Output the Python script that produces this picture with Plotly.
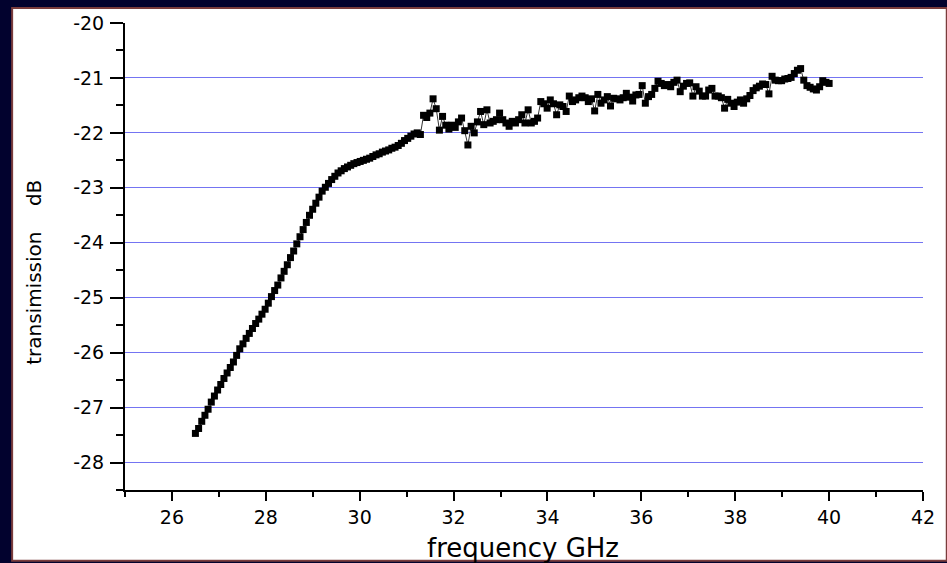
import plotly.graph_objects as go

# ---- data ----
freq_ghz = [
    26.500, 26.568, 26.635, 26.703, 26.770, 26.838, 26.905, 26.973, 27.040, 27.108,
    27.175, 27.243, 27.310, 27.378, 27.445, 27.513, 27.580, 27.648, 27.715, 27.783,
    27.850, 27.918, 27.985, 28.053, 28.120, 28.188, 28.255, 28.323, 28.390, 28.458,
    28.525, 28.593, 28.660, 28.728, 28.795, 28.863, 28.930, 28.998, 29.065, 29.133,
    29.200, 29.268, 29.335, 29.403, 29.470, 29.538, 29.605, 29.673, 29.740, 29.808,
    29.875, 29.943, 30.010, 30.078, 30.145, 30.213, 30.280, 30.348, 30.415, 30.483,
    30.550, 30.618, 30.685, 30.753, 30.820, 30.888, 30.955, 31.023, 31.090, 31.158,
    31.225, 31.293, 31.360, 31.428, 31.495, 31.563, 31.630, 31.698, 31.765, 31.833,
    31.900, 31.968, 32.035, 32.103, 32.170, 32.238, 32.305, 32.373, 32.440, 32.508,
    32.575, 32.643, 32.710, 32.778, 32.845, 32.913, 32.980, 33.048, 33.115, 33.183,
    33.250, 33.318, 33.385, 33.453, 33.520, 33.588, 33.655, 33.723, 33.790, 33.858,
    33.925, 33.993, 34.060, 34.128, 34.195, 34.263, 34.330, 34.398, 34.465, 34.533,
    34.600, 34.668, 34.735, 34.803, 34.870, 34.938, 35.005, 35.073, 35.140, 35.208,
    35.275, 35.343, 35.410, 35.478, 35.545, 35.613, 35.680, 35.748, 35.815, 35.883,
    35.950, 36.018, 36.085, 36.153, 36.220, 36.288, 36.355, 36.423, 36.490, 36.558,
    36.625, 36.693, 36.760, 36.828, 36.895, 36.963, 37.030, 37.098, 37.165, 37.233,
    37.300, 37.368, 37.435, 37.503, 37.570, 37.638, 37.705, 37.773, 37.840, 37.908,
    37.975, 38.043, 38.110, 38.178, 38.245, 38.313, 38.380, 38.448, 38.515, 38.583,
    38.650, 38.718, 38.785, 38.853, 38.920, 38.988, 39.055, 39.123, 39.190, 39.258,
    39.325, 39.393, 39.460, 39.528, 39.595, 39.663, 39.730, 39.798, 39.865, 39.933,
    40.000,
]

transmission_db = [
    -27.47, -27.38, -27.25, -27.14, -27.03, -26.90, -26.79, -26.68, -26.58, -26.47,
    -26.37, -26.27, -26.17, -26.05, -25.93, -25.84, -25.74, -25.65, -25.56, -25.47,
    -25.39, -25.30, -25.21, -25.10, -24.98, -24.87, -24.77, -24.64, -24.52, -24.40,
    -24.27, -24.15, -24.02, -23.89, -23.76, -23.63, -23.50, -23.39, -23.28, -23.17,
    -23.06, -22.99, -22.92, -22.85, -22.79, -22.73, -22.69, -22.65, -22.62, -22.59,
    -22.56, -22.54, -22.52, -22.50, -22.48, -22.46, -22.43, -22.40, -22.38, -22.35,
    -22.33, -22.31, -22.28, -22.26, -22.23, -22.19, -22.14, -22.10, -22.06, -22.02,
    -22.00, -22.03, -21.68, -21.72, -21.64, -21.38, -21.56, -21.95, -21.70, -21.86,
    -21.93, -21.86, -21.90, -21.80, -21.73, -21.96, -22.22, -21.88, -22.00, -21.80,
    -21.61, -21.85, -21.58, -21.82, -21.79, -21.76, -21.64, -21.76, -21.82, -21.88,
    -21.79, -21.82, -21.76, -21.67, -21.82, -21.58, -21.82, -21.79, -21.73, -21.43,
    -21.47, -21.55, -21.40, -21.47, -21.67, -21.49, -21.52, -21.61, -21.33, -21.43,
    -21.40, -21.36, -21.33, -21.36, -21.43, -21.38, -21.60, -21.30, -21.46, -21.40,
    -21.34, -21.51, -21.37, -21.38, -21.40, -21.36, -21.28, -21.35, -21.42, -21.31,
    -21.30, -21.14, -21.46, -21.34, -21.30, -21.19, -21.06, -21.10, -21.14, -21.12,
    -21.16, -21.08, -21.04, -21.25, -21.15, -21.10, -21.09, -21.33, -21.16, -21.24,
    -21.33, -21.33, -21.22, -21.19, -21.33, -21.33, -21.36, -21.55, -21.39, -21.46,
    -21.52, -21.44, -21.40, -21.46, -21.38, -21.32, -21.23, -21.18, -21.15, -21.11,
    -21.12, -21.29, -20.97, -21.04, -21.05, -21.05, -21.02, -21.01, -20.99, -20.92,
    -20.86, -20.83, -21.04, -21.14, -21.17, -21.20, -21.22, -21.16, -21.05, -21.08,
    -21.10,
]

x_tick_vals = [26, 28, 30, 32, 34, 36, 38, 40, 42]
x_tick_text = ["26", "28", "30", "32", "34", "36", "38", "40", "42"]
y_tick_vals = [-28, -27, -26, -25, -24, -23, -22, -21, -20]
y_tick_text = ["-28", "-27", "-26", "-25", "-24", "-23", "-22", "-21", "-20"]
y_grid_vals = [-28, -27, -26, -25, -24, -23, -22, -21]

x_title = "frequency GHz"
y_title = "transimission" + "\u00a0" * 4 + "dB"

TICK_FONT = dict(family="DejaVu Sans", size=19, color="black")

fig = go.Figure()
# helper (empty) trace so the grid-only overlay axis gets rendered
fig.add_trace(go.Scatter(x=[None], y=[None], yaxis="y2", mode="markers",
                         showlegend=False, hoverinfo="skip"))
fig.add_trace(go.Scatter(
    x=freq_ghz, y=transmission_db, mode="lines+markers",
    line=dict(color="black", width=0.8),
    marker=dict(symbol="square", size=7, color="black"),
    showlegend=False, hoverinfo="skip",
))

fig.update_layout(
    width=947, height=563,
    margin=dict(l=125, r=16, t=21, b=73),
    paper_bgcolor="#02022e",
    plot_bgcolor="white",
    xaxis=dict(
        range=[25, 42], tickmode="array", tickvals=x_tick_vals, ticktext=x_tick_text,
        showgrid=False, zeroline=False, showline=True, linecolor="black", linewidth=2,
        ticks="outside", ticklen=9, tickwidth=2, tickcolor="black",
        tickfont=TICK_FONT,
        minor=dict(tick0=25, dtick=1, ticks="outside", ticklen=5, tickwidth=2,
                   tickcolor="black", showgrid=False),
    ),
    yaxis=dict(
        range=[-28.5, -20], tickmode="array", tickvals=y_tick_vals, ticktext=y_tick_text,
        showgrid=False, zeroline=False, showline=True, linecolor="black", linewidth=2,
        ticks="outside", ticklen=13, tickwidth=2, tickcolor="black",
        tickfont=TICK_FONT, ticklabelstandoff=2,
        minor=dict(tick0=-20, dtick=0.5, ticks="outside", ticklen=7, tickwidth=2,
                   tickcolor="black", showgrid=False),
    ),
    yaxis2=dict(
        overlaying="y", anchor="x", side="left", range=[-28.5, -20],
        tickmode="array", tickvals=y_grid_vals, showticklabels=False, ticks="",
        showgrid=True, gridcolor="#7474f2", gridwidth=1,
        zeroline=False, showline=False,
    ),
    shapes=[dict(
        type="rect", xref="paper", yref="paper", layer="below",
        x0=(11 - 125) / 806, x1=(955 - 125) / 806,
        y0=(490 - 561) / 469, y1=(490 - 6) / 469,
        fillcolor="white", line=dict(color="#7a3c3c", width=2),
    )],
    annotations=[
        dict(text=x_title, xref="paper", yref="paper", x=(527 - 125) / 806,
             y=(490 - 548) / 469, xanchor="center", yanchor="middle", showarrow=False,
             font=dict(family="DejaVu Sans", size=26, color="black")),
        dict(text=y_title, xref="paper", yref="paper", x=(33 - 125) / 806,
             y=(490 - 271) / 469, xanchor="center", yanchor="middle", showarrow=False,
             textangle=-90, font=dict(family="DejaVu Sans", size=20, color="black")),
    ],
)

fig.write_html("out.html")
